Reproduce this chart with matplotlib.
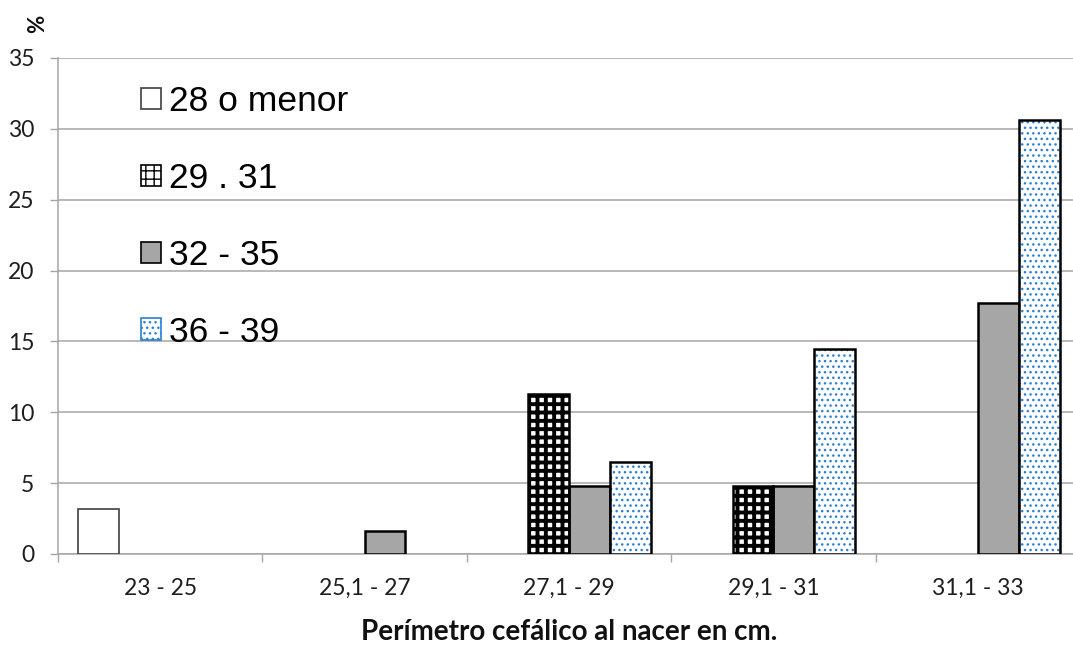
import matplotlib
matplotlib.use("Agg")
import matplotlib.pyplot as plt
import numpy as np
from matplotlib.patches import Patch

# Head circumference at birth (cm), grouped; share (%) per gestational-age group
categories = ["23 - 25", "25,1 - 27", "27,1 - 29", "29,1 - 31", "31,1 - 33"]
series_names = ["28 o menor", "29 . 31", "32 - 35", "36 - 39"]
s_28_menor = [3.2, 0, 0, 0, 0]
s_29_31 = [0, 0, 11.3, 4.8, 0]
s_32_35 = [0, 1.6, 4.8, 4.8, 17.7]
s_36_39 = [0, 0, 6.5, 14.5, 30.6]
y_ticks = [0, 5, 10, 15, 20, 25, 30, 35]

series = [s_28_menor, s_29_31, s_32_35, s_36_39]

fig = plt.figure(figsize=(10.73, 6.45), dpi=100)
ax = fig.add_axes([58 / 1073, 91 / 645, 1022 / 1073, 496 / 645])

x = np.arange(len(categories))
width = 0.2
offsets = (np.arange(4) - 1.5) * width

styles = [
    dict(face="white", hatch=None, hatch_col=None, hatch_lw=1.0, edge="#404040", lw=1.2),
    dict(face="white", hatch="++", hatch_col="black", hatch_lw=2.8, edge="black", lw=1.8),
    dict(face="#a6a6a6", hatch=None, hatch_col=None, hatch_lw=1.0, edge="black", lw=1.8),
    dict(face="white", hatch="...", hatch_col="#2a7fd6", hatch_lw=1.0, edge="black", lw=1.8),
]


def apply_hatch_lw(patches, lw):
    for p in patches:
        if hasattr(p, "set_hatch_linewidth"):
            p.set_hatch_linewidth(lw)


for vals, off, st in zip(series, offsets, styles):
    vals = np.asarray(vals, dtype=float)
    mask = vals > 0
    xs = x[mask] + off
    hs = vals[mask]
    if st["hatch"]:
        # pattern fill first (hatch follows the edge colour), outline on top
        bars = ax.bar(xs, hs, width, color=st["face"], edgecolor=st["hatch_col"],
                      hatch=st["hatch"], linewidth=0, zorder=3)
        apply_hatch_lw(bars.patches, st["hatch_lw"])
        ax.bar(xs, hs, width, fill=False, edgecolor=st["edge"],
               linewidth=st["lw"], zorder=4)
    else:
        ax.bar(xs, hs, width, color=st["face"], edgecolor=st["edge"],
               linewidth=st["lw"], zorder=3)

ax.set_xlim(-0.5, len(categories) - 0.5)
ax.set_ylim(0, 35)
ax.set_yticks(y_ticks)
ax.yaxis.grid(True, color="#a6a6a6", linewidth=1.1, zorder=0)
ax.set_axisbelow(True)

ax.set_xticks(x)
ax.set_xticklabels(categories)
ax.set_xticks(np.arange(len(categories) + 1) - 0.5, minor=True)
ax.tick_params(axis="x", which="major", length=0, pad=17, labelsize=16.5,
               labelcolor="#1e1e1e")
ax.tick_params(axis="x", which="minor", length=6, width=1, color="#a6a6a6")
ax.tick_params(axis="y", which="major", length=6, width=1, color="#a6a6a6",
               labelsize=16.5, labelcolor="#1e1e1e", pad=11)
for lbl in ax.get_xticklabels() + ax.get_yticklabels():
    lbl.set_family("Lato")

for side in ("top", "right"):
    ax.spines[side].set_visible(False)
for side in ("left", "bottom"):
    ax.spines[side].set_color("#a6a6a6")
    ax.spines[side].set_linewidth(1.1)

ax.set_xlabel("Perímetro cefálico al nacer en cm.", fontsize=20,
              fontweight="bold", family="Lato", labelpad=15, color="#111111")
fig.text(38 / 1073, 1 - 24 / 645, "%", rotation=90, ha="center", va="center",
         fontsize=16, fontweight="bold", family="Lato", color="#111111")

# legend swatches
handles = []
for st in styles:
    h = Patch(facecolor=st["face"], edgecolor=st["hatch_col"] or st["edge"],
              hatch=st["hatch"], linewidth=1.2)
    if hasattr(h, "set_hatch_linewidth"):
        h.set_hatch_linewidth(min(st["hatch_lw"], 1.5))
    handles.append(h)
leg = ax.legend(handles, series_names, loc="upper left",
                bbox_to_anchor=(141 / 1073, 1 - 85 / 645),
                bbox_transform=fig.transFigure, frameon=False,
                prop={"family": "Liberation Sans", "size": 25.5},
                handlelength=0.56, handleheight=0.56, handletextpad=0.24,
                labelspacing=1.24, borderpad=0, borderaxespad=0)

fig.savefig("out.png", dpi=100)
